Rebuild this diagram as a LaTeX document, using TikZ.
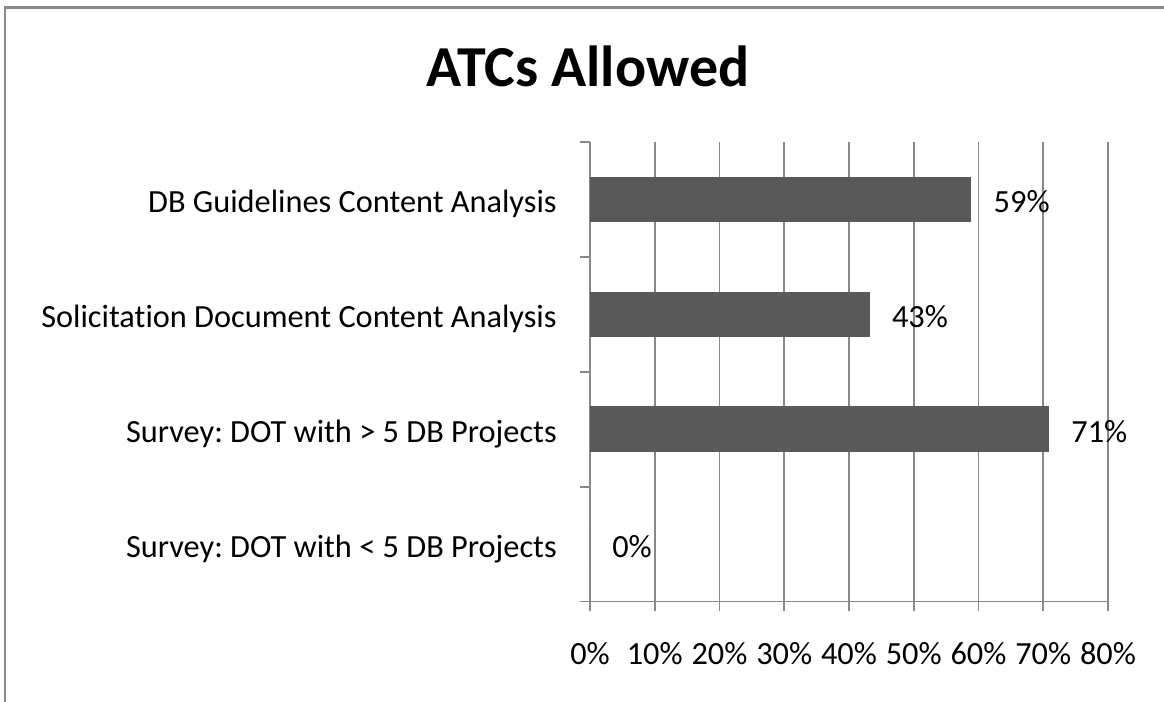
\documentclass[tikz,border=0pt]{standalone}
\usepackage{fontspec}
\setmainfont{Carlito}[Ligatures={NoCommon}]
\usetikzlibrary{positioning,calc}
\definecolor{gris}{HTML}{888888}
\definecolor{barra}{HTML}{595959}
\frenchspacing

\begin{document}
\begin{tikzpicture}[x=0.02cm,y=0.02cm,
    rejilla/.style={gris,line width=1.1pt},
    etq/.style={font=\fontsize{18.4}{21}\selectfont,inner sep=0pt}]
  \useasboundingbox (0,0) rectangle (1164,702);
  % marco
  \draw[gris,line width=1.7pt] (5,0) -- (5,694) -- (1164,694);
  \node[font=\fontsize{33}{38}\selectfont\bfseries,anchor=base,inner sep=0pt]
    (titulo) at (588,615) {ATCs Allowed};
  % rejilla y eje x
  \foreach \i in {0,...,8} {
    \draw[rejilla] (590+64.75*\i,560) -- (590+64.75*\i,91);
    \pgfmathtruncatemacro\pct{10*\i}
    \node[etq,anchor=base] (px\i) at (590+64.75*\i,37) {\pct\%};
  }
  \draw[rejilla] (590,100.5) -- (1108,100.5);
  \foreach \k in {0,...,4}
    \draw[rejilla] (580,100.5+114.875*\k) -- (590,100.5+114.875*\k);
  % barras
  \foreach \v/\p/\txt [count=\k] in {
      0.589/59/DB Guidelines Content Analysis,
      0.432/43/Solicitation Document Content Analysis,
      0.709/71/Survey: DOT with > 5 DB Projects,
      0/0/Survey: DOT with < 5 DB Projects} {
    \pgfmathsetmacro\yc{100.5+(4.5-\k)*114.875}
    \fill[barra] (590,\yc-22.7) rectangle (590+647.5*\v,\yc+22.7);
    \node[etq,anchor=base west] (val\k) at (590+647.5*\v+22,\yc-13) {\p\%};
    \node[etq,anchor=base east] (cat\k) at (557,\yc-13) {\txt};
  }
\end{tikzpicture}
\end{document}
